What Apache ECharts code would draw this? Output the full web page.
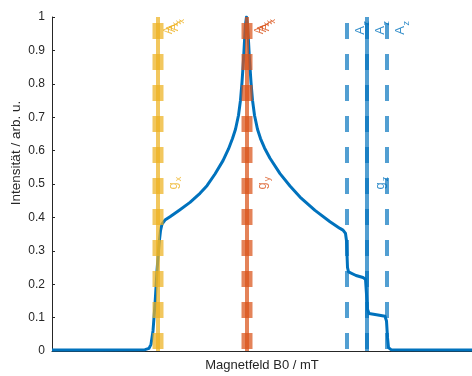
<!DOCTYPE html>
<html>
<head>
<meta charset="utf-8">
<script src="https://cdn.jsdelivr.net/npm/echarts@6/dist/echarts.min.js"></script>
<style>html,body{margin:0;padding:0;background:#fff}#c{width:472px;height:376px}</style>
</head>
<body>
<div id="c"></div>
<script>
// Spectrum (field in mT, intensity arb. u.)
const fieldB = [320.0,324.8,329.3,329.7,329.9,330.1,330.3,330.5,330.7,330.85,331.0,331.3,331.8,332.8,333.8,334.8,335.5,336.3,337.1,337.65,338.05,338.35,338.65,338.85,339.0,339.15,339.25,339.35,339.45,339.55,339.65,339.75,339.9,340.05,340.25,340.55,340.85,341.25,341.8,342.8,343.8,344.8,346.3,347.8,348.8,349.1,349.35,349.45,349.5,349.55,349.65,349.8,350.4,351.1,351.35,351.45,351.55,351.7,352.6,353.3,353.45,353.55,353.65,353.9,362.0];
const intensity = [0.003,0.003,0.004,0.008,0.02,0.06,0.14,0.24,0.32,0.36,0.38,0.392,0.402,0.423,0.445,0.472,0.495,0.53,0.57,0.605,0.636,0.664,0.706,0.751,0.804,0.872,0.928,0.978,1.0,0.978,0.928,0.872,0.804,0.751,0.706,0.664,0.636,0.608,0.577,0.531,0.494,0.461,0.421,0.387,0.367,0.362,0.352,0.33,0.29,0.25,0.237,0.232,0.226,0.22,0.215,0.17,0.125,0.112,0.108,0.104,0.09,0.04,0.01,0.004,0.003];
// g-tensor marker positions
const gNames = ['x','y','z'];
const gPos = [330.6, 339.5, 351.5];
// hyperfine marker positions
const aPos = [349.5, 351.5, 353.5];
const yTicks = [0,0.1,0.2,0.3,0.4,0.5,0.6,0.7,0.8,0.9,1];

const cYel = 'rgba(237,177,32,0.72)';
const cOra = 'rgba(217,83,25,0.72)';
const cBlu = 'rgba(0,114,189,0.68)';
const txtYel = '#EDB120', txtOra = '#D95319', txtBlu = '#0072BD';
const FONT = '"Liberation Sans", Arial, Helvetica, sans-serif';

function vline(x, color, width, dashed, z) {
  return {
    type: 'line', data: [[x,1],[x,0]], symbol: 'none', silent: true, z: z||3,
    lineStyle: {color: color, width: width, type: dashed ? [16,15] : 'solid', dashOffset: dashed ? 25 : 0, cap: 'butt'},
    animation: false
  };
}
// screen offset (sx right, sy down) -> rotated label offset
function txt(x, y, str, color, size, sx, sy) {
  return {
    type: 'scatter', data: [[x,y]], symbolSize: 0, silent: true, z: 5, animation: false,
    label: {show: true, position: 'inside', rotate: 90, offset: [-sy, sx], formatter: str,
      color: color, fontSize: size, fontFamily: FONT}
  };
}

const series = [];
series.push({type: 'line', data: fieldB.map((b,i)=>[b,intensity[i]]), symbol: 'none', smooth: false,
  lineStyle: {color: '#0072BD', width: 3, join: 'round'}, z: 2, animation: false});
// g_x, g_y : thin solid + thick dashes
[[gPos[0], cYel],[gPos[1], cOra]].forEach(([x,c])=>{
  series.push(vline(x, c, 4, false));
  series.push(vline(x, c, 11, true));
});
// A lines (dashed) and g_z (solid)
series.push(vline(aPos[0], cBlu, 4, true));
series.push(vline(aPos[2], cBlu, 4, true));
series.push(vline(gPos[2], cBlu, 4, false));
series.push(vline(aPos[1], cBlu, 4, true));

// g labels
const gCols = [txtYel, txtOra, txtBlu];
gPos.forEach((x,i)=>{
  const dx = i===2 ? 13 : 15;
  series.push(txt(x, 0.5, 'g', gCols[i], 13, dx, 2));
  series.push(txt(x, 0.5, gNames[i], gCols[i], 9, dx+6, -5));
});
// A labels top
aPos.forEach((x)=>{
  series.push(txt(x, 0.96, 'A', txtBlu, 13, 13, 0));
  series.push(txt(x, 0.96, 'z', txtBlu, 9, 20, -7));
});
[[gPos[0], txtYel, 11],[gPos[1], txtOra, 13]].forEach(([x,c,dx])=>{
  [[0,0],[3,-2],[6,-3]].forEach(([ox,oy])=>{
    series.push(txt(x, 0.96, 'A', c, 12, dx+ox, oy));
    series.push(txt(x, 0.96, 'x', c, 9, dx+ox+7, oy-6));
  });
});

const chart = echarts.init(document.getElementById('c'), null, {renderer: 'canvas'});
chart.setOption({
  backgroundColor: '#fff',
  grid: {left: 52, right: 0, top: 17, bottom: 25, containLabel: false, outerBoundsMode: 'none'},
  xAxis: {type: 'value', min: 320, max: 362, name: 'Magnetfeld B0 / mT', nameLocation: 'middle', nameGap: 8,
    nameTextStyle: {color: '#262626', fontSize: 13, fontFamily: FONT, verticalAlign: 'top'},
    axisLine: {onZero: false, lineStyle: {color: '#262626', width: 1}},
    axisTick: {show: false}, axisLabel: {show: false}, splitLine: {show: false}},
  yAxis: {type: 'value', min: 0, max: 1, interval: 0.1,
    axisLine: {show: true, lineStyle: {color: '#262626', width: 1}},
    axisTick: {show: true, inside: true, length: 3, lineStyle: {color: '#262626'}},
    axisLabel: {color: '#262626', fontSize: 12, fontFamily: FONT, margin: 7,
      formatter: v => { const t = yTicks.find(k=>Math.abs(k-v)<1e-6); return t===undefined? '' : String(t); }},
    splitLine: {show: false}},
  graphic: [{type: 'text', x: 16, y: 153, rotation: Math.PI/2,
    style: {text: 'Intensität / arb. u.', fill: '#262626', fontSize: 13.5, fontFamily: FONT, align: 'center', verticalAlign: 'middle'}}],
  series: series
});
</script>
</body>
</html>
